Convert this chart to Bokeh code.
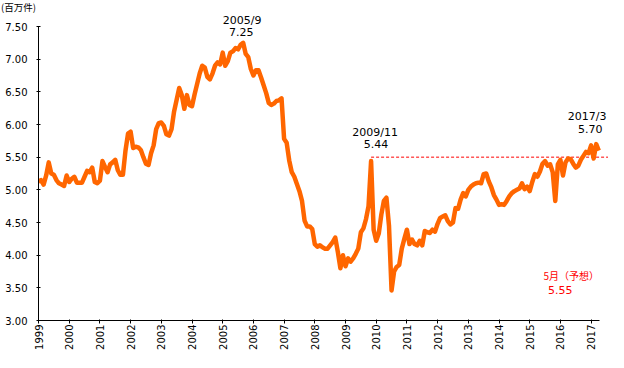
import math
from bokeh.plotting import figure
from bokeh.models import Range1d, FixedTicker, Div
from bokeh.layouts import column
from bokeh.core.properties import value
from bokeh.embed import file_html
from bokeh.resources import INLINE

# ---- data (US existing home sales, millions, monthly SAAR) ----
year_ticks = list(range(1999, 2018))
y_ticks = [3.0, 3.5, 4.0, 4.5, 5.0, 5.5, 6.0, 6.5, 7.0, 7.5]

sales_1999 = [5.12, 5.15, 5.08, 5.22, 5.42, 5.25, 5.23, 5.15, 5.10, 5.08, 5.06, 5.22]
sales_2000 = [5.12, 5.17, 5.20, 5.11, 5.11, 5.11, 5.20, 5.29, 5.27, 5.34, 5.12, 5.10]
sales_2001 = [5.14, 5.44, 5.35, 5.27, 5.39, 5.42, 5.46, 5.30, 5.23, 5.23, 5.60, 5.86]
sales_2002 = [5.89, 5.64, 5.66, 5.65, 5.61, 5.50, 5.40, 5.38, 5.56, 5.68, 5.93, 6.02]
sales_2003 = [6.03, 5.98, 5.85, 5.83, 5.93, 6.20, 6.38, 6.56, 6.45, 6.24, 6.45, 6.30]
sales_2004 = [6.28, 6.46, 6.62, 6.78, 6.90, 6.87, 6.73, 6.69, 6.78, 6.90, 6.95, 6.92]
sales_2005 = [7.10, 6.90, 6.97, 7.10, 7.12, 7.17, 7.15, 7.22, 7.25, 7.08, 7.03, 6.85]
sales_2006 = [6.75, 6.83, 6.83, 6.72, 6.60, 6.48, 6.33, 6.30, 6.32, 6.36, 6.37, 6.40]
sales_2007 = [5.78, 5.72, 5.45, 5.27, 5.20, 5.09, 4.98, 4.83, 4.53, 4.44, 4.44, 4.40]
sales_2008 = [4.17, 4.13, 4.15, 4.12, 4.10, 4.10, 4.15, 4.20, 4.27, 4.05, 3.80, 4.00]
sales_2009 = [3.83, 3.95, 3.90, 3.95, 4.02, 4.10, 4.35, 4.41, 4.55, 4.75, 5.44, 4.39]
sales_2010 = [4.22, 4.33, 4.62, 4.83, 4.88, 4.45, 3.46, 3.75, 3.82, 3.85, 4.10, 4.25]
sales_2011 = [4.39, 4.17, 4.24, 4.17, 4.15, 4.22, 4.15, 4.37, 4.35, 4.34, 4.39, 4.36]
sales_2012 = [4.48, 4.57, 4.59, 4.61, 4.52, 4.47, 4.50, 4.72, 4.71, 4.85, 4.95, 4.90]
sales_2013 = [5.00, 5.05, 5.08, 5.10, 5.11, 5.10, 5.24, 5.25, 5.13, 5.04, 4.92, 4.85]
sales_2014 = [4.77, 4.78, 4.77, 4.83, 4.90, 4.95, 4.98, 5.00, 5.02, 5.10, 5.01, 5.05]
sales_2015 = [4.98, 5.12, 5.24, 5.20, 5.28, 5.40, 5.44, 5.37, 5.39, 5.27, 4.83, 5.39]
sales_2016 = [5.46, 5.22, 5.42, 5.48, 5.47, 5.40, 5.34, 5.37, 5.46, 5.52, 5.58, 5.56]
sales_2017 = [5.68, 5.48, 5.70, 5.60]

peak_labels = ["2005/9", "2009/11", "2017/3"]
peak_years = [2005, 2009, 2017]
peak_months = [9, 11, 3]
peak_values = [7.25, 5.44, 5.70]

ref_level = 5.50            # red dashed reference level
forecast_label = "5月（予想）"
forecast_value = 5.55
forecast_year, forecast_month = 2017, 5
unit_label = "(百万件)"

# ---- build series ----
by_year = [sales_1999, sales_2000, sales_2001, sales_2002, sales_2003, sales_2004,
           sales_2005, sales_2006, sales_2007, sales_2008, sales_2009, sales_2010,
           sales_2011, sales_2012, sales_2013, sales_2014, sales_2015, sales_2016,
           sales_2017]
xs, ys = [], []
for yr, vals in zip(year_ticks, by_year):
    for i, v in enumerate(vals):
        xs.append(yr + i / 12.0)
        ys.append(v)

def t(year, month):
    return year + (month - 1) / 12.0

# ---- layout ----
W = 608
HEAD_H = 14                  # height of the unit-label strip above the plot
H = 352 - HEAD_H
left_border = 38
bottom_border = 32
frame_w = W - left_border
frame_h = H - bottom_border
px_per_year = 30.7
top_of_scale_px = 26 - HEAD_H           # frame row of 7.50
px_per_unit = (frame_h - top_of_scale_px) / 4.5

x0 = 1999.0
x1 = x0 + frame_w / px_per_year
y0 = 3.0
y1 = y0 + frame_h / px_per_unit

NUM_FONT = "DejaVu Sans"
JP_FONT = "Noto Sans CJK JP"

p = figure(width=W, height=H, output_backend="svg", toolbar_location=None,
           x_range=Range1d(x0, x1), y_range=Range1d(y0, y1),
           min_border_left=left_border, min_border_right=0,
           min_border_top=0, min_border_bottom=bottom_border)
p.background_fill_color = "white"
p.border_fill_color = "white"
p.outline_line_color = None
p.xgrid.visible = False
p.ygrid.visible = False

# dashed reference line from the 2009/11 peak to the right edge
p.line(x=[t(2009, 11), x1], y=[ref_level, ref_level], line_color="#FF0000",
       line_width=1, line_dash="3 2")

p.line(xs, ys, line_color="#FF6600", line_width=4.5, line_join="round")

# axes
xa = p.xaxis[0]
xa.ticker = FixedTicker(ticks=year_ticks)
xa.major_label_overrides = {y: str(y) for y in year_ticks}
xa.major_label_orientation = math.pi / 2
xa.major_label_text_font = NUM_FONT
xa.major_label_text_font_size = "10px"
xa.major_label_text_color = "black"
xa.major_label_standoff = 1
xa.major_tick_in = 1
xa.major_tick_out = 3
xa.minor_tick_line_color = None
xa.axis_line_color = "black"
xa.major_tick_line_color = "black"
xa.bounds = (1999.0, 2017.27)

ya = p.yaxis[0]
ya.ticker = FixedTicker(ticks=y_ticks)
ya.major_label_overrides = {v: "%.2f" % v for v in y_ticks}
ya.major_label_text_font = NUM_FONT
ya.major_label_text_font_size = "10px"
ya.major_label_text_color = "black"
ya.major_label_standoff = 9
ya.major_tick_in = 2
ya.major_tick_out = 2
ya.minor_tick_line_color = None
ya.axis_line_color = "black"
ya.major_tick_line_color = "black"
ya.bounds = (3.0, 7.5)

# peak annotations (offsets in pixels from the peak point)
date_offsets = [(-1, -22), (4, -29), (-9, -28)]
val_offsets = [(-2, -11), (5, -17), (-6, -15)]
for lab, yr, mo, v, (dx1, dy1), (dx2, dy2) in zip(peak_labels, peak_years, peak_months,
                                                 peak_values, date_offsets, val_offsets):
    p.text(x=[t(yr, mo)], y=[v], text=[lab], x_offset=dx1, y_offset=dy1,
           text_align="center", text_baseline="middle", text_font=value(NUM_FONT),
           text_font_size="11px", text_color="black")
    p.text(x=[t(yr, mo)], y=[v], text=["%.2f" % v], x_offset=dx2, y_offset=dy2,
           text_align="center", text_baseline="middle", text_font=value(NUM_FONT),
           text_font_size="11px", text_color="black")

# forecast annotation
p.text(x=[t(forecast_year, forecast_month)], y=[forecast_value], text=[forecast_label],
       x_offset=-30, y_offset=122, text_align="center", text_baseline="middle",
       text_font=value(JP_FONT), text_font_size="10px", text_color="#FF0000")
p.text(x=[t(forecast_year, forecast_month)], y=[forecast_value], text=["%.2f" % forecast_value],
       x_offset=-41, y_offset=136, text_align="center", text_baseline="middle",
       text_font=value(NUM_FONT), text_font_size="11px", text_color="#FF0000")

# unit label strip at top left
head = Div(text=unit_label, width=W, height=HEAD_H,
           styles={"font-family": JP_FONT, "font-size": "9.5px", "line-height": "14px",
                   "color": "black", "margin": "0", "padding": "0 0 0 1px",
                   "overflow": "visible", "white-space": "nowrap"})

layout = column(head, p, spacing=0)
open("out.html", "w").write(file_html(layout, INLINE))
